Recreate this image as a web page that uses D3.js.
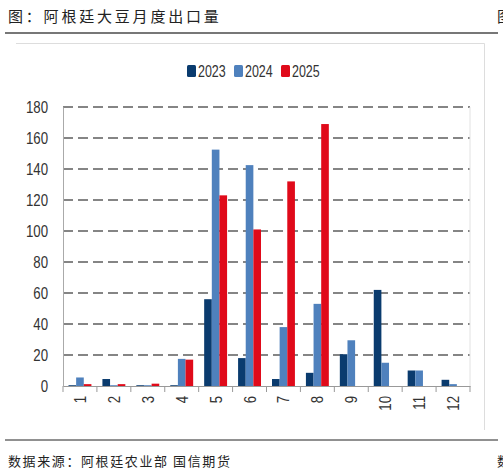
<html>
<head>
<meta charset="utf-8">
<style>
  body { margin: 0; background: #fff; }
  svg { display: block; }
  .cjk { font-family: "Noto Sans CJK SC", sans-serif; }
  .num { font-family: "Liberation Sans", Arial, sans-serif; }
</style>
<script src="https://cdn.jsdelivr.net/npm/d3@7"></script>
</head>
<body>
<svg id="chart"></svg>
<script>
// months on the x axis
let months = ["1", "2", "3", "4", "5", "6", "7", "8", "9", "10", "11", "12"];
let years = ["2023", "2024", "2025"];
// monthly exports (null = no data yet)
let exports2023 = [0.5, 4.5, 0.5, 0.5, 56, 18, 4.5, 8.5, 20.5, 62, 10, 4];
let exports2024 = [5.5, 0.5, 0.5, 17.5, 152.5, 142.5, 38, 53, 29.5, 15, 10, 1.2];
let exports2025 = [1.2, 1.2, 1.5, 17, 123, 101, 132, 169, null, null, null, null];
let yTicks = [0, 20, 40, 60, 80, 100, 120, 140, 160, 180];
let colors = ["#0a3b6e", "#4f81bd", "#e00a1a"];

let width = 503, height = 473;
let margin = { left: 63, right: 33, top: 107, bottom: 87 };
let narrow = 0.78; // the source font is a narrow face, squeeze Liberation Sans
let svg = d3.select("#chart").attr("width", width).attr("height", height);

// title + top rule
svg.append("text").attr("class", "cjk")
  .attr("x", 8).attr("y", 22)
  .attr("font-size", 15).attr("letter-spacing", 2.8).attr("fill", "#222")
  .text("图：阿根廷大豆月度出口量");
svg.append("text").attr("class", "cjk")
  .attr("x", 497).attr("y", 22)
  .attr("font-size", 15).attr("fill", "#222").text("图");
svg.append("line").attr("x1", 5).attr("x2", 498).attr("y1", 33).attr("y2", 33)
  .attr("stroke", "#777").attr("stroke-width", 2);

// light chart frame
svg.append("path").attr("d", "M16,43.5 H484.5 V430")
  .attr("fill", "none").attr("stroke", "#ddd").attr("stroke-width", 1);

let x = d3.scaleBand().domain(months)
  .range([margin.left, width - margin.right]).paddingInner(0).paddingOuter(0);
let inner = d3.scaleBand().domain(years).range([5.5, x.bandwidth() - 5.5]);
let y = d3.scaleLinear().domain([0, 180]).range([height - margin.bottom, margin.top]);

// dashed grid
svg.append("g").selectAll("line").data(yTicks.filter(d => d > 0)).enter()
  .append("line")
  .attr("x1", margin.left).attr("x2", width - margin.right)
  .attr("y1", d => y(d)).attr("y2", d => y(d))
  .attr("stroke", "#858585").attr("stroke-width", 2).attr("stroke-dasharray", "10,5");
svg.append("line")
  .attr("x1", width - margin.right).attr("x2", width - margin.right)
  .attr("y1", y(180)).attr("y2", y(0)).attr("stroke", "#e2e2e2");

// bars
let rows = months.map((m, i) => ({
  month: m,
  vals: [exports2023[i], exports2024[i], exports2025[i]]
}));
let groups = svg.append("g").selectAll("g").data(rows).enter().append("g")
  .attr("transform", d => `translate(${x(d.month)},0)`);
groups.selectAll("rect")
  .data(d => d.vals.map((v, k) => ({ year: years[k], v: v, k: k })).filter(e => e.v != null))
  .enter().append("rect")
  .attr("x", e => inner(e.year))
  .attr("width", inner.bandwidth())
  .attr("y", e => y(e.v))
  .attr("height", e => y(0) - y(e.v))
  .attr("fill", e => colors[e.k]);

// y axis
let yAxis = svg.append("g").attr("transform", `translate(${margin.left},0)`)
  .call(d3.axisLeft(y).tickValues(yTicks).tickSize(0));
yAxis.select(".domain").attr("stroke", "#aaa");
yAxis.selectAll("text").attr("class", "num").attr("font-size", 17).attr("fill", "#333")
  .attr("x", -15 / narrow)
  .attr("transform", `scale(${narrow},1)`);

// x axis
let xAxis = svg.append("g").attr("transform", `translate(0,${y(0)})`)
  .call(d3.axisBottom(x).tickSize(0).tickPadding(0));
xAxis.select(".domain").attr("stroke", "#999");
xAxis.selectAll("text").attr("class", "num").attr("font-size", 17).attr("fill", "#333")
  .attr("transform", `rotate(-90) scale(${narrow},1)`)
  .attr("text-anchor", "end").attr("dy", "0.35em").attr("x", -10 / narrow).attr("y", 0);
svg.append("g").selectAll("line").data(months.concat(["end"])).enter().append("line")
  .attr("x1", d => d === "end" ? width - margin.right : x(d))
  .attr("x2", d => d === "end" ? width - margin.right : x(d))
  .attr("y1", y(0)).attr("y2", y(0) + 6)
  .attr("stroke", "#999");

// legend
let legend = svg.append("g").attr("transform", "translate(187,65)");
years.forEach((yr, k) => {
  let g = legend.append("g").attr("transform", `translate(${k * 47},0)`);
  g.append("rect").attr("width", 9).attr("height", 12).attr("rx", 1.5).attr("fill", colors[k]);
  g.append("text").attr("class", "num")
    .attr("transform", `translate(11,11.5) scale(${narrow},1)`)
    .attr("font-size", 16).attr("fill", "#333").text(yr);
});

// bottom rule + source
svg.append("line").attr("x1", 5).attr("x2", 498).attr("y1", 440).attr("y2", 440)
  .attr("stroke", "#222").attr("stroke-width", 1);
svg.append("text").attr("class", "cjk")
  .attr("x", 8).attr("y", 466)
  .attr("font-size", 13).attr("letter-spacing", 1.6).attr("fill", "#222")
  .text("数据来源：阿根廷农业部 国信期货");
svg.append("text").attr("class", "cjk")
  .attr("x", 497).attr("y", 466)
  .attr("font-size", 13).attr("fill", "#222").text("数");
</script>
</body>
</html>
